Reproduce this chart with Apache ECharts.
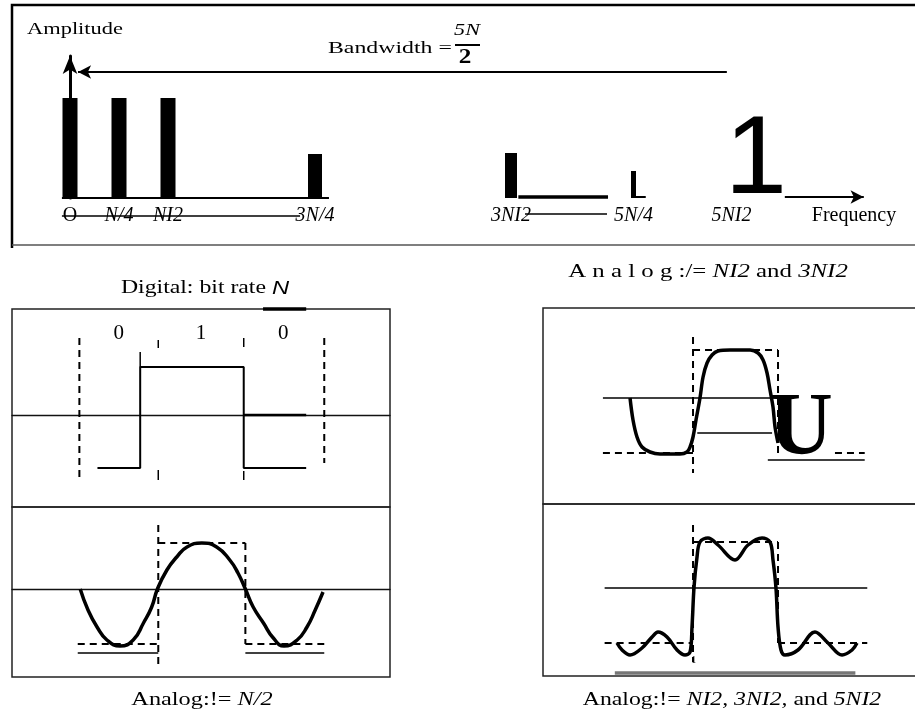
<!DOCTYPE html>
<html><head><meta charset="utf-8">
<script src="https://cdn.jsdelivr.net/npm/echarts@6/dist/echarts.min.js"></script>
<style>html,body{margin:0;padding:0;background:#fff}#c{width:915px;height:715px}</style>
</head><body><div id="c"></div>
<script>
// ---------- Top panel: spectrum (x in layout slots, y in relative amplitude) ----------
const specTickSlots  = [0, 2, 4, 10, 18, 23, 27, 32];
const specTickLabels = ['O', 'N/4', 'NI2', '3N/4', '3NI2', '5N/4', '5NI2', 'Frequency'];
const specTickItalic = [false, true, true, true, true, true, true, false];
const specWideBars = [[0, 1.0], [2, 1.0], [4, 1.0]];
const spec3N4Bar   = [[10, 0.44]];
const spec3N2Bar   = [[18, 0.45]];
const spec5N4Bar   = [[23, 0.27]];
const spec5N2Glyph = [[28, 0.36]];
const spec5N2GlyphText = '1';
const specBaseline  = [[-0.33, 0], [10.57, 0]];
const specFoot3N2   = [[18.3, 0.01], [21.96, 0.01]];
const specUnder5N4  = [[22.9, 0.01], [23.5, 0.01]];
const specStrike1   = [[-0.33, -0.18], [9.39, -0.18]];
const specStrike2   = [[18.57, -0.16], [21.92, -0.16]];
const specFreqArrow = [[29.18, 0.01], [32.39, 0.01]];
const specBandArrow = [[0.33, 1.26], [26.8, 1.26]];

// ---------- Left upper: digital signal (x in bit periods, y in amplitude) ----------
const bits = ['0', '1', '0'];
const bitLabelLevel = 1.64;
const digitalWave = [[0.24, -1.06], [0.76, -1.06], [0.76, 0.96], [2.02, 0.96], [2.02, -1.06], [2.78, -1.06]];
const digitalZeroHeavy = [[2.02, 0], [2.78, 0]];
const digitalTicks = [
  [[0.76, 0.96], [0.76, 1.26]], [[0.98, 1.5], [0.98, 1.34]], [[2.02, 1.54], [2.02, 1.36]],
  [[0.98, -1.1], [0.98, -1.3]], [[2.02, -1.12], [2.02, -1.3]]
];
const digitalGuides = [[[0.02, 1.54], [0.02, -1.3]], [[3.0, 1.54], [3.0, -0.96]]];
const digitalTopHeavy = [[2.255, 2.12], [2.78, 2.12]];

// ---------- Left lower: analog, fundamental only ----------
const sineWave = [
  [0.03, 0], [0.125, -0.42], [0.235, -0.76], [0.355, -1.02], [0.515, -1.14], [0.675, -1.02], [0.8, -0.68], [0.9, -0.36], [0.97, 0],
  [1.085, 0.38], [1.205, 0.64], [1.33, 0.84], [1.51, 0.92], [1.69, 0.84], [1.85, 0.58], [1.95, 0.32], [2.04, 0],
  [2.135, -0.36], [2.26, -0.68], [2.38, -0.98], [2.51, -1.14], [2.67, -1.02], [2.79, -0.76], [2.89, -0.42], [2.985, -0.06]
];
const sineSquareDashed = [
  [[0, -1.1], [0.98, -1.1]], [[0.98, 1.28], [0.98, -1.52]], [[0.98, 0.92], [2.04, 0.92]],
  [[2.04, 0.92], [2.04, -1.1]], [[2.04, -1.1], [3.0, -1.1]]
];
const sineBaseRules = [[[0, -1.28], [0.98, -1.28]], [[2.04, -1.28], [3.0, -1.28]]];

// ---------- Right upper: analog, N/2 and 3N/2 ----------
const threeHarmWave = [
  [0.259, 0], [0.294, -0.44], [0.341, -0.78], [0.4, -0.98], [0.494, -1.08], [0.612, -1.12], [0.847, -1.12], [0.929, -1.08],
  [0.965, -0.98], [1.0, -0.78], [1.035, -0.44], [1.082, 0], [1.118, 0.42], [1.165, 0.7], [1.224, 0.86], [1.294, 0.94],
  [1.435, 0.96], [1.671, 0.96], [1.765, 0.9], [1.824, 0.76], [1.871, 0.5], [1.906, 0.16], [1.941, -0.18], [1.965, -0.58], [2.0, -0.9]
];
const threeHarmDashed = [
  [[-0.06, -1.1], [1, -1.1]], [[1, 1.22], [1, -1.5]], [[1, 0.96], [2, 0.96]], [[2, 0.96], [2, -1.1]], [[2.67, -1.1], [3.02, -1.1]]
];
const threeHarmZero = [[-0.06, 0], [1.99, 0]];
const threeHarmRules = [[[1.05, -0.7], [1.93, -0.7]], [[1.88, -1.24], [3.02, -1.24]]];
const threeHarmGlyph = [[2.27, -0.64]];
const threeHarmGlyphText = 'U';

// ---------- Right lower: analog, N/2, 3N/2 and 5N/2 ----------
const fiveHarmWave = [
  [0.106, -1.1], [0.165, -1.24], [0.259, -1.34], [0.4, -1.2], [0.518, -0.98], [0.588, -0.88], [0.694, -0.98], [0.812, -1.24],
  [0.906, -1.34], [0.965, -1.28], [0.988, -0.78], [1.012, 0.02], [1.047, 0.62], [1.082, 0.92], [1.176, 1.0], [1.294, 0.86],
  [1.494, 0.56], [1.647, 0.86], [1.812, 1.0], [1.906, 0.92], [1.941, 0.56], [1.976, 0], [2.0, -0.78], [2.035, -1.24],
  [2.082, -1.34], [2.235, -1.24], [2.435, -0.88], [2.588, -1.1], [2.753, -1.34], [2.871, -1.24], [2.929, -1.1]
];
const fiveHarmDashed = [
  [[-0.04, -1.1], [1, -1.1]], [[1, 1.26], [1, -1.48]], [[1, 0.92], [2, 0.92]], [[2, 0.92], [2, -1.1]], [[2, -1.1], [3.05, -1.1]]
];
const fiveHarmZero = [[-0.04, 0], [3.05, 0]];
const fiveHarmGrayRule = [[0.08, -1.7], [2.91, -1.7]];
const fiveHarmTinyMark = [[1.01, -1.44]];
const fiveHarmTinyText = '1';

// ---------- Build ----------
const SERIF = '"Liberation Serif", "Times New Roman", serif';
const SANS = '"Liberation Sans", Arial, sans-serif';
const P = { spec: [0, 0], lu: [4, 1], ll: [5, 2], ru: [6, 3], rl: [7, 4] };

function line(data, panel, style, extra) {
  return Object.assign({
    type: 'line', xAxisIndex: P[panel][0], yAxisIndex: P[panel][1], data: data,
    symbol: 'none', showSymbol: false, clip: false, silent: true, animation: false,
    emphasis: { disabled: true }, z: 3,
    lineStyle: Object.assign({ color: '#000', width: 1.5 }, style)
  }, extra || {});
}
function lines(list, panel, style, extra) { return list.map(d => line(d, panel, style, extra)); }
const DASH = { type: [7, 5], width: 2 };

function glyph(data, panel, textOf, font, size, weight) {
  return {
    type: 'scatter', xAxisIndex: P[panel][0], yAxisIndex: P[panel][1], data: data,
    symbol: 'circle', symbolSize: 0.01, itemStyle: { color: '#000', opacity: 1 }, silent: true, animation: false, z: 6,
    emphasis: { disabled: true },
    label: {
      show: true, position: 'inside', formatter: textOf, fontFamily: font, fontSize: size,
      fontWeight: weight || 'normal', color: '#000', opacity: 1, textBorderWidth: 0
    }
  };
}
function arrow(data, panel, symbols) {
  return line(data, panel, { width: 2 }, {
    markLine: {
      silent: true, symbol: symbols, symbolSize: [10, 13], animation: false,
      lineStyle: { color: '#000', width: 2, type: 'solid' }, label: { show: false },
      data: [[{ coord: data[0] }, { coord: data[1] }]]
    }
  });
}

const hiddenX = (gi, min, max) => ({ gridIndex: gi, type: 'value', min, max, show: false });
const hiddenY = (gi, min, max) => ({ gridIndex: gi, type: 'value', min, max, show: false });
const zeroX = (gi, min, max) => ({
  gridIndex: gi, type: 'value', min, max,
  axisLine: { show: true, onZero: true, lineStyle: { color: '#111', width: 1.3 } },
  axisTick: { show: false }, axisLabel: { show: false }, splitLine: { show: false }
});
const specX = (showLabels) => ({
  gridIndex: 0, type: 'value', min: -2, max: 34, interval: 1,
  axisLine: { show: false }, axisTick: { show: false }, splitLine: { show: false },
  axisLabel: {
    show: showLabels, margin: 8,
    formatter: v => {
      const i = specTickSlots.indexOf(Math.round(v));
      if (i < 0) return '';
      return (specTickItalic[i] ? '{i|' : '{r|') + specTickLabels[i] + '}';
    },
    rich: {
      r: { fontFamily: SERIF, fontSize: 20, color: '#000' },
      i: { fontFamily: SERIF, fontSize: 20, fontStyle: 'italic', color: '#000' }
    }
  }
});
const box = { show: true, borderColor: '#222', borderWidth: 1.5, backgroundColor: 'transparent' };
const g = (o) => Object.assign({ containLabel: false, outerBoundsMode: 'none' }, o);

const R = (size, extra) => Object.assign({ fontFamily: SERIF, fontSize: size, fill: '#000' }, extra || {});
function ttext(x, y, text, rich, sx, align) {
  return {
    type: 'group', x: x, y: y, scaleX: sx, silent: true,
    children: [{ type: 'text', style: { text: text, rich: rich, x: 0, y: 0, align: align || 'center', verticalAlign: 'middle', fill: '#000', font: '18px ' + SERIF } }]
  };
}

const option = {
  backgroundColor: '#ffffff',
  animation: false,
  grid: [
    g({ left: 21, top: 56, width: 882, height: 142 }),
    g(Object.assign({ left: 12, top: 309, width: 378, height: 198 }, box)),
    g(Object.assign({ left: 12, top: 507, width: 378, height: 170 }, box)),
    g(Object.assign({ left: 543, top: 308, width: 400, height: 196 }, box)),
    g(Object.assign({ left: 543, top: 504, width: 400, height: 172 }, box))
  ],
  xAxis: [
    specX(true), specX(false), specX(false), specX(false),
    zeroX(1, -0.8, 3.8), zeroX(2, -0.8, 3.8),
    hiddenX(3, -0.765, 3.941), hiddenX(4, -0.765, 3.941)
  ],
  yAxis: [
    {
      gridIndex: 0, type: 'value', min: 0, max: 1.42,
      axisLine: { show: true, onZero: true, symbol: ['none', 'arrow'], symbolSize: [11, 18], lineStyle: { color: '#000', width: 3 } },
      axisTick: { show: false }, axisLabel: { show: false }, splitLine: { show: false }
    },
    hiddenY(1, -1.84, 2.12), hiddenY(2, -1.76, 1.64), hiddenY(3, -2.12, 1.8), hiddenY(4, -1.76, 1.68)
  ],
  series: [
    // spectrum bars
    { type: 'bar', xAxisIndex: 0, yAxisIndex: 0, data: specWideBars, barWidth: 15, itemStyle: { color: '#000' }, silent: true, z: 4 },
    { type: 'bar', xAxisIndex: 1, yAxisIndex: 0, data: spec3N4Bar, barWidth: 14, itemStyle: { color: '#000' }, silent: true, z: 4 },
    { type: 'bar', xAxisIndex: 2, yAxisIndex: 0, data: spec3N2Bar, barWidth: 12, itemStyle: { color: '#000' }, silent: true, z: 4 },
    { type: 'bar', xAxisIndex: 3, yAxisIndex: 0, data: spec5N4Bar, barWidth: 5, itemStyle: { color: '#000' }, silent: true, z: 4 },
    glyph(spec5N2Glyph, 'spec', spec5N2GlyphText, SANS, 112),
    line(specBaseline, 'spec', { width: 2 }),
    line(specFoot3N2, 'spec', { width: 3.5 }),
    line(specUnder5N4, 'spec', { width: 2 }),
    line(specStrike1, 'spec', { width: 1.3 }),
    line(specStrike2, 'spec', { width: 1.3 }),
    arrow(specFreqArrow, 'spec', ['none', 'arrow']),
    arrow(specBandArrow, 'spec', ['arrow', 'none']),

    // left upper: digital
    line(digitalWave, 'lu', { width: 2 }),
    line(digitalZeroHeavy, 'lu', { width: 2.5 }),
    line(digitalTopHeavy, 'lu', { width: 3.5 }),
    ...lines(digitalTicks, 'lu', { width: 1.5 }),
    ...lines(digitalGuides, 'lu', DASH),
    glyph(bits.map((b, i) => [i + 0.5, bitLabelLevel]), 'lu', p => bits[p.dataIndex], SERIF, 21),

    // left lower: sine
    ...lines(sineSquareDashed, 'll', DASH),
    ...lines(sineBaseRules, 'll', { width: 1.3 }),
    line(sineWave, 'll', { width: 3.5 }, { smooth: 0.5, z: 5 }),

    // right upper
    line(threeHarmZero, 'ru', { width: 1.5 }),
    ...lines(threeHarmDashed, 'ru', DASH),
    ...lines(threeHarmRules, 'ru', { width: 1.3 }),
    line(threeHarmWave, 'ru', { width: 3.5 }, { smooth: 0.35, z: 5 }),
    glyph(threeHarmGlyph, 'ru', threeHarmGlyphText, SERIF, 88, 'bold'),

    // right lower
    line(fiveHarmZero, 'rl', { width: 1.3 }),
    ...lines(fiveHarmDashed, 'rl', DASH),
    line(fiveHarmGrayRule, 'rl', { width: 3.5, color: '#777' }),
    line(fiveHarmWave, 'rl', { width: 3.5 }, { smooth: 0.35, z: 5 }),
    glyph(fiveHarmTinyMark, 'rl', fiveHarmTinyText, SERIF, 10)
  ],
  graphic: [
    { type: 'polyline', silent: true, shape: { points: [[930, 5], [12, 5], [12, 248]] }, style: { stroke: '#000', lineWidth: 2.5, fill: null } },
    { type: 'line', silent: true, shape: { x1: 12, y1: 245, x2: 915, y2: 245 }, style: { stroke: '#555', lineWidth: 1.5 } },
    { type: 'line', silent: true, shape: { x1: 455, y1: 45, x2: 480, y2: 45 }, style: { stroke: '#000', lineWidth: 2 } },
    ttext(75, 30, '{r|Amplitude}', { r: R(16) }, 1.4),
    ttext(328, 49, '{r|Bandwidth =}', { r: R(17) }, 1.4, 'left'),
    ttext(467, 31, '{i|5N}', { i: R(17, { fontStyle: 'italic' }) }, 1.3),
    ttext(465, 58, '{b|2}', { b: R(21, { fontWeight: 'bold' }) }, 1.2),
    ttext(205, 288.5, '{r|Digital: bit rate }{n|N}', { r: R(19), n: { fontFamily: SANS, fontSize: 19, fontStyle: 'italic', fill: '#000' } }, 1.25),
    ttext(708, 272.5, '{r|A n a l o g :/= }{i|NI2}{r| and }{i|3NI2}', { r: R(18), i: R(18, { fontStyle: 'italic' }) }, 1.38),
    ttext(202, 700, '{r|Analog:!= }{i|N/2}', { r: R(18), i: R(18, { fontStyle: 'italic' }) }, 1.35),
    ttext(732, 700, '{r|Analog:!= }{i|NI2, 3NI2,}{r| and }{i|5NI2}', { r: R(18), i: R(18, { fontStyle: 'italic' }) }, 1.32)
  ]
};

const chart = echarts.init(document.getElementById('c'));
chart.setOption(option);
</script>
</body></html>
